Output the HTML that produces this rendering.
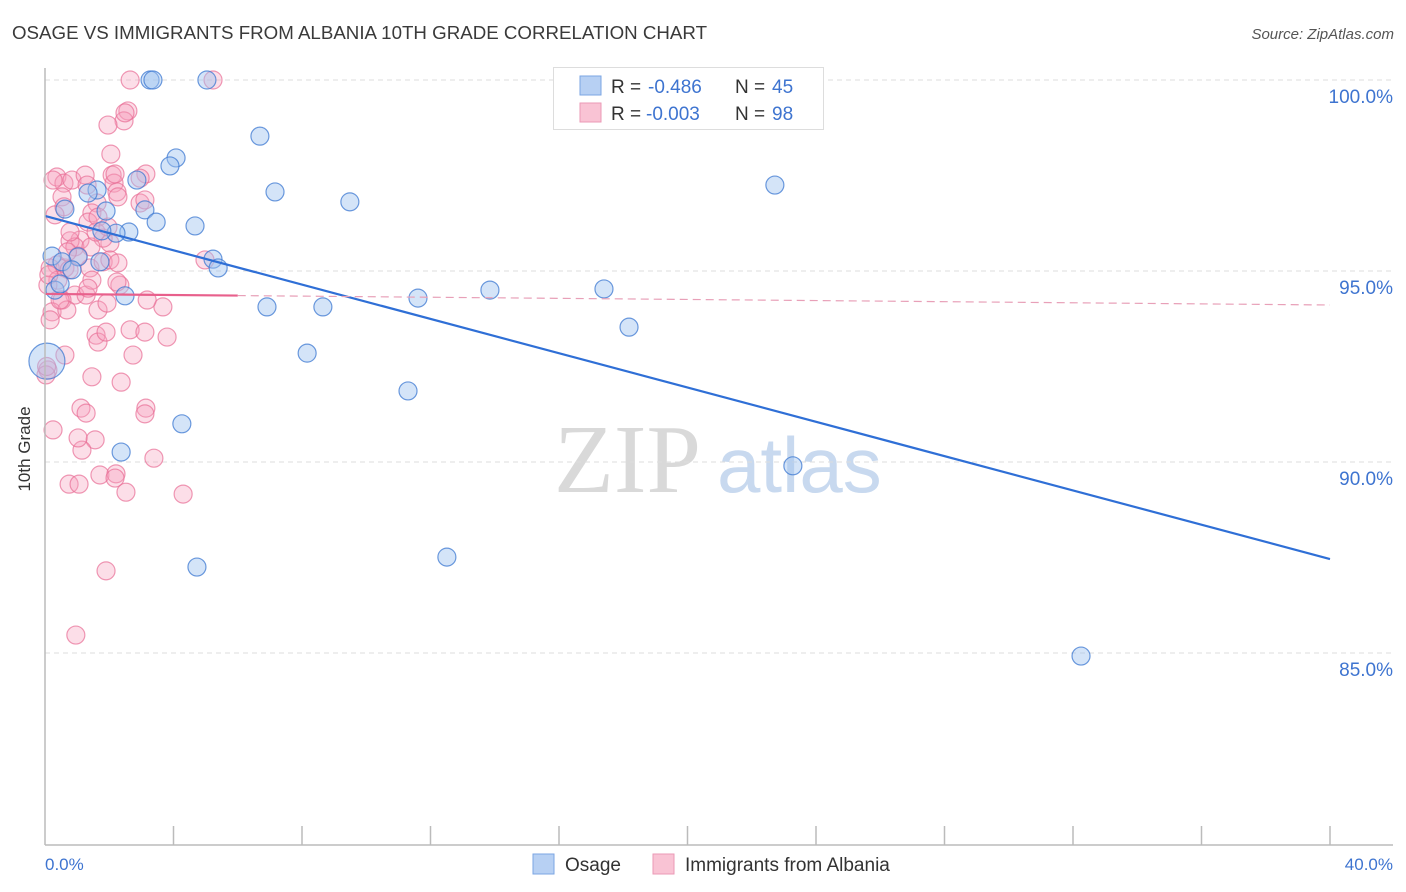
<!DOCTYPE html>
<html><head><meta charset="utf-8"><style>
body{margin:0;background:#fff;font-family:"Liberation Sans",sans-serif;}
#wrap{position:relative;width:1406px;height:892px;overflow:hidden;}
</style></head><body>
<div id="wrap">
<svg id="chart" width="1406" height="892" xmlns="http://www.w3.org/2000/svg">
<text x="12" y="39" font-size="18" textLength="695" lengthAdjust="spacingAndGlyphs" fill="#3a3a3a">OSAGE VS IMMIGRANTS FROM ALBANIA 10TH GRADE CORRELATION CHART</text>
<text x="1394" y="39" font-size="15" font-style="italic" fill="#555" text-anchor="end">Source: ZipAtlas.com</text>
<text x="554" y="492" font-size="98" font-family="Liberation Serif,serif" fill="#d9d9d9">ZIP</text>
<text x="717" y="492" font-size="78" fill="#c8d9ef">atlas</text>
<g id="grid"></g>
<g id="marks"></g>
<line x1="45" y1="68" x2="45" y2="845" stroke="#bbb" stroke-width="1.5"/>
<line x1="45" y1="845" x2="1393" y2="845" stroke="#bbb" stroke-width="1.5"/>
<text x="36" y="455" font-size="17" fill="#333" text-anchor="middle" transform="rotate(-90 30 455)">10th Grade</text>
<text x="45" y="870" font-size="17" fill="#3e74d0">0.0%</text>
<text x="1393" y="870" font-size="17" fill="#3e74d0" text-anchor="end">40.0%</text>
<g>
<rect x="553.5" y="67.5" width="270" height="62" fill="#fff" stroke="#ddd"/>
<rect x="580" y="76" width="21" height="19" fill="#b7d0f3" stroke="#7ba6e3"/>
<rect x="580" y="103" width="21" height="19" fill="#f9c3d4" stroke="#eb9ab6"/>
<text x="611" y="93" font-size="19" fill="#333">R =</text>
<text x="648" y="93" font-size="19" fill="#3e74d0">-0.486</text>
<text x="735" y="93" font-size="19" fill="#333">N =</text>
<text x="772" y="93" font-size="19" fill="#3e74d0">45</text>
<text x="611" y="120" font-size="19" fill="#333">R =</text>
<text x="646" y="120" font-size="19" fill="#3e74d0">-0.003</text>
<text x="735" y="120" font-size="19" fill="#333">N =</text>
<text x="772" y="120" font-size="19" fill="#3e74d0">98</text>
</g>
<rect x="533" y="854" width="21" height="20" fill="#b7d0f3" stroke="#7ba6e3"/>
<text x="565" y="871" font-size="19" fill="#333">Osage</text>
<rect x="653" y="854" width="21" height="20" fill="#f9c3d4" stroke="#eb9ab6"/>
<text x="685" y="871" font-size="19" fill="#333">Immigrants from Albania</text>
</svg>
</div>
<script>
const yTicks=[100,95,90,85];
const yTickLabels=["100.0%","95.0%","90.0%","85.0%"];
const xTicks=[0,4,8,12,16,20,24,28,32,36,40];
const osageX=[3.27,3.36,5.04,6.69,4.08,3.89,7.16,2.86,9.49,22.72,1.62,1.34,0.62,3.11,1.90,3.46,4.67,2.61,2.21,1.77,0.22,1.03,0.53,5.23,5.39,2.49,6.91,8.65,11.61,13.85,17.40,18.18,8.16,11.30,4.26,2.37,23.28,12.51,4.73,32.25,0.06,0.84,0.31,0.47,1.71];
const osageY=[100,100,100,98.53,97.96,97.75,97.07,97.38,96.81,97.25,97.12,97.04,96.62,96.60,96.57,96.28,96.18,96.02,95.99,96.05,95.39,95.37,95.24,95.31,95.08,94.35,94.06,94.06,94.29,94.50,94.53,93.53,92.85,91.86,91.0,90.26,89.90,87.51,87.25,84.92,92.64,95.03,94.50,94.66,95.24];
const osageSize=[1,1,1,1,1,1,1,1,1,1,1,1,1,1,1,1,1,1,1,1,1,1,1,1,1,1,1,1,1,1,1,1,1,1,1,1,1,1,1,1,2,1,1,1,1];
const albX=[2.65,5.23,2.58,2.46,1.96,2.05,3.14,0.37,0.59,0.84,1.25,1.31,2.09,2.15,2.24,0.53,1.62,2.27,2.96,1.46,1.34,1.65,1.09,0.78,2.02,1.81,0.93,1.43,0.37,0.16,0.62,1.40,1.81,2.02,0.75,0.40,0.09,0.93,1.28,0.53,0.22,1.65,0.68,2.33,2.65,3.11,3.67,3.18,1.93,1.59,1.65,1.90,3.80,2.74,0.62,0.09,0.03,1.46,2.37,1.12,1.28,3.14,3.11,0.25,1.56,1.15,1.03,3.39,1.71,2.21,2.18,0.75,1.06,2.52,4.30,1.90,0.96,4.98,1.59,1.96,0.25,0.59,0.31,1.03,2.24,1.46,0.78,2.96,2.18,0.47,0.16,2.27,1.34,3.11,2.49,0.12,0.05,0.70];
const albY=[100,100,99.19,98.93,98.82,98.06,97.54,97.46,97.30,97.38,97.51,97.25,97.51,97.30,97.07,96.94,96.78,96.94,96.78,96.52,96.28,96.41,95.81,95.79,95.73,95.86,95.63,95.63,95.16,95.08,95.08,95.08,95.24,95.29,95.03,94.76,94.63,94.37,94.37,94.24,93.93,93.98,93.98,94.63,93.46,93.40,94.06,94.24,94.16,93.32,93.14,93.40,93.27,92.80,92.80,92.41,92.28,92.23,92.09,91.41,91.28,91.41,91.26,90.84,90.58,90.31,90.63,90.10,89.66,89.69,89.58,89.42,89.42,89.21,89.16,87.15,85.47,95.29,96.02,96.15,97.38,96.68,96.47,95.39,94.71,94.76,96.02,97.43,97.54,94.24,93.72,95.21,94.55,96.86,99.14,94.9,92.5,95.5];
const osageTrend=[96.44,87.46];
const albTrend=[94.40,94.11];
const albSolidEnd=6;

const NS="http://www.w3.org/2000/svg";
function sx(v){return 45+v/40*1285;}
function sy(v){return 80+(100-v)*38.2;}
const grid=document.getElementById('grid'),marks=document.getElementById('marks'),svg=document.getElementById('chart');
function mk(tag,attrs,parent){const e=document.createElementNS(NS,tag);for(const k in attrs)e.setAttribute(k,attrs[k]);parent.appendChild(e);return e;}
yTicks.forEach((t,i)=>{
  const g=mk('line',{x1:45,x2:1393,y1:sy(t),y2:sy(t),stroke:'#ddd','stroke-dasharray':'5,4'},grid);
  
  
  const l=mk('text',{x:1393,y:sy(t)+23,'font-size':19,fill:'#3e74d0','text-anchor':'end'},svg);
  l.textContent=yTickLabels[i];
  
  
});
xTicks.forEach(t=>{
  if(t===0)return;
  const k=mk('line',{x1:sx(t),x2:sx(t),y1:826,y2:845,stroke:'#bbb','stroke-width':1.5},grid);
  
  
});
albX.forEach((x,i)=>{
  const c=mk('circle',{cx:sx(x),cy:sy(albY[i]),r:9,fill:'rgba(246,160,190,0.35)',stroke:'rgba(232,110,150,0.7)','stroke-width':1.2},marks);
  
  
});
osageX.forEach((x,i)=>{
  const c=mk('circle',{cx:sx(x),cy:sy(osageY[i]),r:9*osageSize[i],fill:'rgba(160,196,240,0.45)',stroke:'rgba(60,120,210,0.75)','stroke-width':1.2},marks);
  
  
});
const ol=mk('line',{x1:sx(0),y1:sy(osageTrend[0]),x2:sx(40),y2:sy(osageTrend[1]),stroke:'#2f6fd6','stroke-width':2.2},marks);


const pm=v=>albTrend[0]+(albTrend[1]-albTrend[0])*v/40;
const pl=mk('line',{x1:sx(0),y1:sy(albTrend[0]),x2:sx(albSolidEnd),y2:sy(pm(albSolidEnd)),stroke:'#e8608c','stroke-width':2.2},marks);


const pd=mk('line',{x1:sx(albSolidEnd),y1:sy(pm(albSolidEnd)),x2:sx(40),y2:sy(albTrend[1]),stroke:'#e8a0b8','stroke-width':1.2,'stroke-dasharray':'8,5'},marks);


</script>
</body></html>
